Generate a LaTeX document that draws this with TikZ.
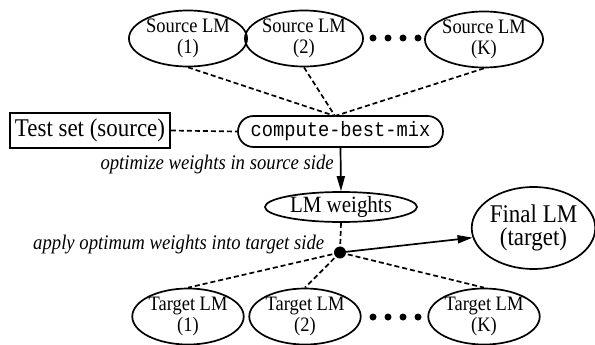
\documentclass[tikz,border=0pt]{standalone}
\usepackage{fontspec}
\setmainfont[FakeStretch=0.9]{Liberation Serif}
\setmonofont[FakeStretch=0.9]{Liberation Mono}
\usetikzlibrary{shapes.geometric,shapes.misc,arrows.meta}

\tikzset{
  lmnode/.style={draw,ellipse,line width=1.7pt,inner sep=0pt,align=center,
    minimum width=108pt,minimum height=56pt,font=\fontsize{20.5}{21}\selectfont},
  dashline/.style={line width=1.7pt,dash pattern=on 5pt off 3pt},
  flowarrow/.style={line width=1.7pt,-{Triangle[length=15pt,width=8pt]}},
  notelabel/.style={inner sep=0pt,font=\fontsize{20.8}{20}\selectfont\itshape},
}

\begin{document}
\begin{tikzpicture}[x=1pt,y=1pt,yscale=-1,xscale=1]
\useasboundingbox (0,0) rectangle (595,345);

%Source LMs
\node [lmnode] (src1) at (188,38.5) {Source LM\\(1)};
\node [lmnode] (src2) at (304,38.5) {Source LM\\(2)};
\node [lmnode] (srcK) at (484,39.5) {Source LM\\(K)};
\foreach \x in {373,388,403,418}
  \fill (\x,38) circle [radius=3.5];

%compute-best-mix and test set
\node [draw,rounded rectangle,line width=1.7pt,inner sep=0pt,minimum width=205pt,minimum height=31pt,
  font=\fontsize{20.8}{20}\selectfont\ttfamily] (mix) at (340.5,131.5) {compute-best-mix};
\node [draw,rectangle,line width=1.7pt,inner sep=0pt,minimum width=160pt,minimum height=35pt,
  font=\fontsize{25.5}{25}\selectfont] (test) at (90,130.5) {Test set (source)};
\coordinate (hub) at (335,116);

%LM weights and final LM
\node [draw,ellipse,line width=1.7pt,inner sep=0pt,minimum width=152pt,minimum height=30pt,
  font=\fontsize{23.3}{22}\selectfont] (weights) at (341,207) {LM weights};
\node [draw,ellipse,line width=1.7pt,inner sep=0pt,align=center,minimum width=103pt,minimum height=82pt,
  font=\fontsize{25.5}{23.5}\selectfont] (final) at (533.5,228) {Final LM\\(target)};
\fill (340,252.5) circle [radius=6];
\coordinate (junct) at (340,252.5);

%Target LMs
\node [lmnode] (tgt1) at (188,316.5) {Target LM\\(1)};
\node [lmnode] (tgt2) at (305,316.5) {Target LM\\(2)};
\node [lmnode] (tgtK) at (484,316.5) {Target LM\\(K)};
\foreach \x in {373,388,403,418}
  \fill (\x,317) circle [radius=3.5];

%Connectors
\draw [dashline] (src1.south) -- (hub);
\draw [dashline] (src2.south) -- (hub);
\draw [dashline] (srcK.south) -- (hub);
\draw [dashline] (test.east) -- (mix.west);
\draw [flowarrow] (mix.south) -- (weights.north);
\draw [dashline] (weights.south) -- (junct);
\draw [flowarrow] (junct) -- (final.189);
\draw [dashline] (junct) -- (tgt1.north);
\draw [dashline] (junct) -- (tgt2.north);
\draw [dashline] (junct) -- (tgtK.north);

% Text Node
\node [notelabel,anchor=east] (optlabel) at (334,164) {optimize weights in source side};
% Text Node
\node [notelabel,anchor=west] (applylabel) at (33,245) {apply optimum weights into target side};

\end{tikzpicture}
\end{document}
